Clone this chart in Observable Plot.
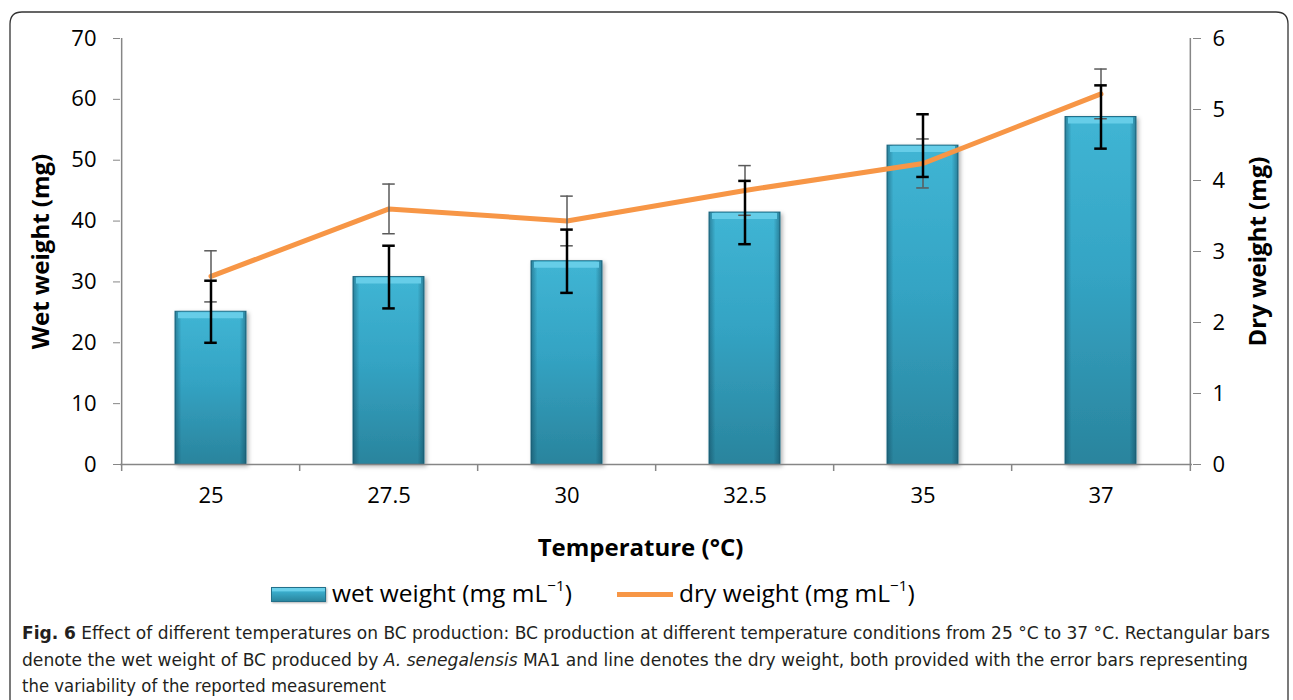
<!DOCTYPE html>
<html><head><meta charset="utf-8">
<script src="https://cdn.jsdelivr.net/npm/d3@7"></script>
<script src="https://cdn.jsdelivr.net/npm/@observablehq/plot@0.6"></script>
<style>
body{margin:0;background:#fff;}
#page{position:relative;width:1293px;height:700px;overflow:hidden;font-family:"Open Sans",sans-serif;background:#fff;}
#chart{position:absolute;left:0;top:0;}
.lg{position:absolute;font-size:24.5px;line-height:30px;color:#000;white-space:nowrap;}
.lg sup{font-size:0.62em;vertical-align:0.7em;line-height:0;}
#sw1{position:absolute;left:271px;top:587px;width:55px;height:15px;box-sizing:border-box;border:1px solid #23708a;
 background:linear-gradient(to bottom,#6ad0ea 0,#6ad0ea 22%,#3aaccb 30%,#2a869f 100%);box-shadow:1px 1px 2px rgba(0,0,0,0.3);}
#sw2{position:absolute;left:617px;top:592px;width:56px;height:5px;background:#F79646;}
#caption{position:absolute;left:0;top:0;}
</style></head>
<body><div id="page">
<div id="chart"></div>
<div id="sw1"></div><div class="lg" style="left:332px;top:578px;">wet weight (mg mL<sup>−1</sup>)</div>
<div id="sw2"></div><div class="lg" style="left:679px;top:578px;">dry weight (mg mL<sup>−1</sup>)</div>
<svg id="caption" width="1293" height="700" style="pointer-events:none">
 <path d="M10,705 L10,24 Q10,12 22,12 L1276,12 Q1288,12 1288,24 L1288,705" fill="none" stroke="#333" stroke-width="1.3"/>
 <g font-family="'Liberation Sans Narrow','DejaVu Sans Condensed','Open Sans',sans-serif" font-size="18.5" fill="#231f20">
  <text x="22" y="639" textLength="1248" lengthAdjust="spacingAndGlyphs"><tspan font-weight="bold">Fig. 6</tspan> Effect of different temperatures on BC production: BC production at different temperature conditions from 25 °C to 37 °C. Rectangular bars</text>
  <text x="22" y="666" textLength="1226" lengthAdjust="spacingAndGlyphs">denote the wet weight of BC produced by <tspan font-style="italic">A. senegalensis</tspan> MA1 and line denotes the dry weight, both provided with the error bars representing</text>
  <text x="22" y="692" textLength="364" lengthAdjust="spacingAndGlyphs">the variability of the reported measurement</text>
 </g>
</svg>
</div>
<script>
const temps = ["25", "27.5", "30", "32.5", "35", "37"];
const wetWeight = [25.1, 30.8, 33.4, 41.4, 52.4, 57.1];
const wetError = [5.1, 5.15, 5.2, 5.2, 5.15, 5.2];
const dryWeight = [2.65, 3.6, 3.43, 3.86, 4.24, 5.22];
const dryError = [0.36, 0.35, 0.35, 0.35, 0.345, 0.35];
const leftTicks = [0, 10, 20, 30, 40, 50, 60, 70];
const rightTicks = [0, 1, 2, 3, 4, 5, 6];

const table = temps.map((t, i) => ({t, wet: wetWeight[i], wetErr: wetError[i], dry: dryWeight[i], dryErr: dryError[i]}));

const W = 1293, H = 570, mL = 120, mR = 101, mT = 38, mB = 106;
const k = 70 / 6; // dry-weight axis (0–6) mapped onto wet-weight axis (0–70)
const step = (W - mL - mR) / temps.length;
const bw = step * 0.4;
const capInset = (bw - 13) / 2;
const axisGray = "#868686";

const plot = Plot.plot({
  width: W, height: H,
  marginLeft: mL, marginRight: mR, marginTop: mT, marginBottom: mB,
  style: {background: "transparent", fontFamily: "Open Sans", fontSize: "22px", color: "#000", overflow: "visible"},
  x: {type: "band", domain: temps, paddingInner: 0.6, paddingOuter: 0.3},
  y: {domain: [0, 70]},
  marks: [
    Plot.barY(table, {x: "t", y: "wet", fill: "url(#barGrad)", stroke: "#23708a", strokeWidth: 1}),
    Plot.barY(table, {x: "t", y: "wet", fill: "url(#sideGrad)"}),
    Plot.tickY(table, {x: "t", y: "wet", stroke: "#66cde8", strokeWidth: 6, dy: 3.5, insetLeft: 3, insetRight: 3}),
    Plot.ruleY([0], {stroke: axisGray, strokeWidth: 1.5}),
    Plot.ruleX(temps, {x: d => d, dx: -step / 2, y1: (d, i) => i === 0 ? 70 : 0, y2: 0, insetBottom: -7, stroke: axisGray, strokeWidth: 1.5}),
    Plot.ruleX([temps[temps.length - 1]], {x: d => d, dx: step / 2, y1: 70, y2: 0, insetBottom: -7, stroke: axisGray, strokeWidth: 1.5}),
    Plot.lineY(table, {x: "t", y: d => d.dry * k, stroke: "#F79646", strokeWidth: 5}),
    Plot.ruleX(table, {x: "t", y1: d => (d.dry - d.dryErr) * k, y2: d => (d.dry + d.dryErr) * k, stroke: "#5a5a5a", strokeWidth: 1.5}),
    Plot.tickY(table, {x: "t", y: d => (d.dry - d.dryErr) * k, stroke: "#5a5a5a", strokeWidth: 1.5, insetLeft: capInset, insetRight: capInset}),
    Plot.tickY(table, {x: "t", y: d => (d.dry + d.dryErr) * k, stroke: "#5a5a5a", strokeWidth: 1.5, insetLeft: capInset, insetRight: capInset}),
    Plot.ruleX(table, {x: "t", y1: d => d.wet - d.wetErr, y2: d => d.wet + d.wetErr, stroke: "#000", strokeWidth: 2.5}),
    Plot.tickY(table, {x: "t", y: d => d.wet - d.wetErr, stroke: "#000", strokeWidth: 2.5, insetLeft: capInset, insetRight: capInset}),
    Plot.tickY(table, {x: "t", y: d => d.wet + d.wetErr, stroke: "#000", strokeWidth: 2.5, insetLeft: capInset, insetRight: capInset}),
    Plot.axisY({anchor: "left", ticks: leftTicks, tickSize: 7, tickPadding: 17, stroke: axisGray, fill: "#000", fontSize: 22, label: null}),
    Plot.axisY({anchor: "right", ticks: rightTicks.map(v => v * k), tickFormat: d => String(Math.round(d / k)), tickSize: 8, tickPadding: 12, stroke: axisGray, fill: "#000", fontSize: 22, label: null}),
    Plot.axisX({tickSize: 0, tickPadding: 23, fill: "#000", fontSize: 22, label: null}),
    Plot.text(["Wet weight (mg)"], {text: d => d, frameAnchor: "left", dx: -79, rotate: -90, textAnchor: "middle", lineAnchor: "middle", fontWeight: "bold", fontSize: 24, fill: "#000"}),
    Plot.text(["Dry weight (mg)"], {text: d => d, frameAnchor: "right", dx: 66, rotate: -90, textAnchor: "middle", lineAnchor: "middle", fontWeight: "bold", fontSize: 24, fill: "#000"}),
    Plot.text(["Temperature (°C)"], {text: d => d, frameAnchor: "bottom", dy: 84, dx: -16, textAnchor: "middle", lineAnchor: "middle", fontWeight: "bold", fontSize: 24, fill: "#000"})
  ]
});

const defs = d3.select(plot).insert("defs", ":first-child");
const g1 = defs.append("linearGradient").attr("id", "barGrad").attr("x1", 0).attr("y1", 0).attr("x2", 0).attr("y2", 1);
[[0, "#40b5d4"], [0.45, "#34a4c4"], [1, "#2a849d"]].forEach(([o, c]) => g1.append("stop").attr("offset", o).attr("stop-color", c));
const g2 = defs.append("linearGradient").attr("id", "sideGrad").attr("x1", 0).attr("y1", 0).attr("x2", 1).attr("y2", 0);
[[0, 0.4], [0.09, 0], [0.91, 0], [1, 0.4]].forEach(([o, a]) => g2.append("stop").attr("offset", o).attr("stop-color", "#0a3346").attr("stop-opacity", a));
const f = defs.append("filter").attr("id", "shadow").attr("x", "-20%").attr("y", "-10%").attr("width", "150%").attr("height", "130%");
f.append("feDropShadow").attr("dx", 2).attr("dy", 2).attr("stdDeviation", 2).attr("flood-color", "#000").attr("flood-opacity", 0.3);
d3.select(plot).select('g[aria-label="bar"]').attr("filter", "url(#shadow)");

document.getElementById("chart").appendChild(plot);
</script>
</body></html>
